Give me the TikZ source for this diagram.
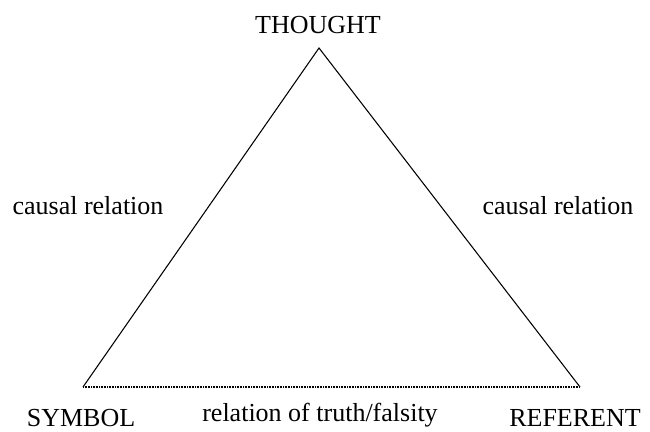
\documentclass[tikz,border=0pt]{standalone}
\usepackage{fontspec}
\setmainfont{Liberation Serif}
\usepackage{tikz}
\tikzset{lbl/.style={font=\fontsize{19.5}{22}\selectfont,inner sep=0pt}}

\begin{document}
\begin{tikzpicture}[x=0.75pt,y=-0.75pt]
\useasboundingbox (0,0) rectangle (650,432);
\coordinate (apex) at (319,48);
\coordinate (left) at (83,387);
\coordinate (right) at (580,387);
\draw[line width=0.8pt] (left) to (apex) to (right);
\draw[line width=0.8pt,dotted,dash pattern=on 0.6pt off 0.6pt] (left) to (right);
\node[lbl] (thought) at (318,25) {THOUGHT};
\node[lbl] (causl) at (88,206) {causal relation};
\node[lbl] (causr) at (558,206) {causal relation};
\node[lbl] (symbol) at (81,418) {SYMBOL};
\node[lbl] (truth) at (320,415) {relation of truth/falsity};
\node[lbl] (referent) at (575,418) {REFERENT};
\end{tikzpicture}
\end{document}
